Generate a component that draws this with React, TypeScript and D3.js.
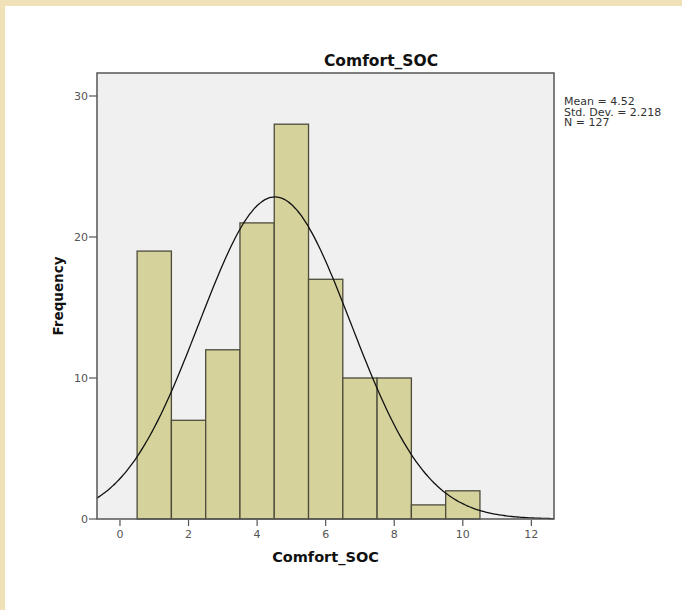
import React from "react";
import * as d3 from "d3";

const binCenters = [1, 2, 3, 4, 5, 6, 7, 8, 9, 10];
const frequencies = [19, 7, 12, 21, 28, 17, 10, 10, 1, 2];
const xTicks = [0, 2, 4, 6, 8, 10, 12];
const yTicks = [0, 10, 20, 30];
const mean = 4.52;
const stdDev = 2.218;
const n = 127;
const binWidth = 1;
const statLines = ["Mean = 4.52", "Std. Dev. = 2.218", "N = 127"];

const W = 682;
const H = 610;
const plot = { left: 97, right: 554, top: 73, bottom: 519 };

export default function App() {
  const x = d3.scaleLinear().domain([-0.67, 12.66]).range([plot.left, plot.right]);
  const y = d3.scaleLinear().domain([0, 31.63]).range([plot.bottom, plot.top]);

  const pdf = (v: number) =>
    (n * binWidth) / (stdDev * Math.sqrt(2 * Math.PI)) *
    Math.exp(-0.5 * ((v - mean) / stdDev) ** 2);
  const [d0, d1] = x.domain();
  const pts: [number, number][] = d3.range(0, 201).map((i) => {
    const v = d0 + ((d1 - d0) * i) / 200;
    return [v, pdf(v)];
  });
  const line = d3
    .line<[number, number]>()
    .x((d) => x(d[0]))
    .y((d) => y(d[1]))
    .curve(d3.curveBasis);

  const font = "'DejaVu Sans', 'Noto Sans', sans-serif";

  return (
    <svg
      width={W}
      height={H}
      style={{ position: "absolute", left: 0, top: 0, background: "#fff" }}
      fontFamily={font}
    >
      <rect x={0} y={0} width={W} height={H} fill="#fff" />
      <rect x={0} y={0} width={W} height={6} fill="#f1e1b9" />
      <rect x={0} y={0} width={5} height={H} fill="#f1e1b9" />

      <text x={381} y={66} textAnchor="middle" fontSize={15.5} fontWeight="bold" fill="#111">
        Comfort_SOC
      </text>

      <rect
        x={plot.left}
        y={plot.top}
        width={plot.right - plot.left}
        height={plot.bottom - plot.top}
        fill="#f0f0f0"
      />

      {binCenters.map((c, i) => (
        <rect
          key={c}
          x={x(c - binWidth / 2)}
          y={y(frequencies[i])}
          width={x(c + binWidth / 2) - x(c - binWidth / 2)}
          height={y(0) - y(frequencies[i])}
          fill="#d5d29c"
          stroke="#4d4b3c"
          strokeWidth={1.3}
        />
      ))}

      <path d={line(pts) || ""} fill="none" stroke="#111" strokeWidth={1.3} />

      <rect
        x={plot.left}
        y={plot.top}
        width={plot.right - plot.left}
        height={plot.bottom - plot.top}
        fill="none"
        stroke="#555"
        strokeWidth={1.5}
      />

      {yTicks.map((t) => (
        <g key={t}>
          <line x1={plot.left - 8} x2={plot.left} y1={y(t)} y2={y(t)} stroke="#555" strokeWidth={1.2} />
          <text x={plot.left - 9} y={y(t)} dy="0.36em" textAnchor="end" fontSize={11} fill="#555">
            {t}
          </text>
        </g>
      ))}

      {xTicks.map((t) => (
        <g key={t}>
          <line x1={x(t)} x2={x(t)} y1={plot.bottom + 1} y2={plot.bottom + 7} stroke="#555" strokeWidth={1.2} />
          <text x={x(t)} y={plot.bottom + 19} textAnchor="middle" fontSize={11} fill="#555">
            {t}
          </text>
        </g>
      ))}

      <text
        x={(plot.left + plot.right) / 2}
        y={562}
        textAnchor="middle"
        fontSize={14.5}
        fontWeight="bold"
        fill="#111"
      >
        Comfort_SOC
      </text>

      <text
        transform={`translate(63, ${(plot.top + plot.bottom) / 2}) rotate(-90)`}
        textAnchor="middle"
        fontSize={13.5}
        fontWeight="bold"
        fill="#111"
      >
        Frequency
      </text>

      {statLines.map((s, i) => (
        <text key={s} x={564} y={105 + i * 10.5} fontSize={11} fill="#333">
          {s}
        </text>
      ))}
    </svg>
  );
}
